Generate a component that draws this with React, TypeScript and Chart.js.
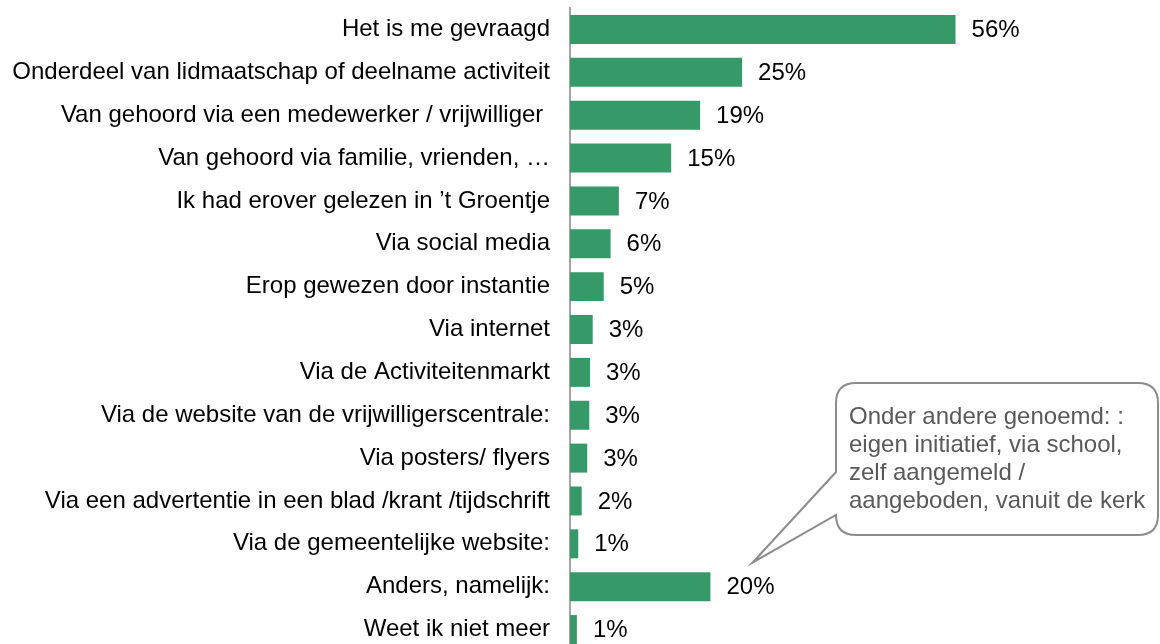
import React, { useEffect, useRef } from "react";
import { Chart, registerables } from "chart.js";

Chart.register(...registerables);

const categories = [
  "Het is me gevraagd",
  "Onderdeel van lidmaatschap of deelname activiteit",
  "Van gehoord via een medewerker / vrijwilliger ",
  "Van gehoord via familie, vrienden, \u2026",
  "Ik had erover gelezen in \u2019t Groentje",
  "Via social media",
  "Erop gewezen door instantie",
  "Via internet",
  "Via de Activiteitenmarkt",
  "Via de website van de vrijwilligerscentrale:",
  "Via posters/ flyers",
  "Via een advertentie in een blad /krant /tijdschrift",
  "Via de gemeentelijke website:",
  "Anders, namelijk:",
  "Weet ik niet meer",
];

const values = [56, 25, 18.9, 14.7, 7.1, 5.9, 4.9, 3.3, 2.9, 2.8, 2.5, 1.7, 1.2, 20.4, 1.0];

const valueLabels = ["56%", "25%", "19%", "15%", "7%", "6%", "5%", "3%", "3%", "3%", "3%", "2%", "1%", "20%", "1%"];

const calloutLines = [
  "Onder andere genoemd: :",
  "eigen initiatief, via school,",
  "zelf aangemeld /",
  "aangeboden, vanuit de kerk",
];
const calloutIndex = 13;

const FONT = "'Liberation Sans', Arial, sans-serif";

const valueLabelPlugin = {
  id: "valueLabels",
  afterDatasetsDraw(chart: any) {
    const ctx = chart.ctx;
    const meta = chart.getDatasetMeta(0);
    ctx.save();
    ctx.font = `24px ${FONT}`;
    ctx.fillStyle = "#000000";
    ctx.textAlign = "left";
    ctx.textBaseline = "middle";
    meta.data.forEach((bar: any, i: number) => {
      ctx.fillText(valueLabels[i], bar.x + 16, bar.y + 1);
    });
    ctx.restore();
  },
};

const calloutPlugin = {
  id: "callout",
  afterDraw(chart: any) {
    const ctx = chart.ctx;
    const xs = chart.scales.x;
    const ys = chart.scales.y;
    const tipX = xs.getPixelForValue(values[calloutIndex]) + 42;
    const tipY = ys.getPixelForValue(calloutIndex) - 24;
    const left = 836;
    const top = 383;
    const right = 1158;
    const bottom = 535;
    const r = 20;
    const t1 = 472;
    const t2 = 515;
    ctx.save();
    ctx.beginPath();
    ctx.moveTo(left + r, top);
    ctx.lineTo(right - r, top);
    ctx.quadraticCurveTo(right, top, right, top + r);
    ctx.lineTo(right, bottom - r);
    ctx.quadraticCurveTo(right, bottom, right - r, bottom);
    ctx.lineTo(left + r, bottom);
    ctx.quadraticCurveTo(left, bottom, left, bottom - r);
    ctx.lineTo(left, t2);
    ctx.lineTo(tipX, tipY);
    ctx.lineTo(left, t1);
    ctx.lineTo(left, top + r);
    ctx.quadraticCurveTo(left, top, left + r, top);
    ctx.closePath();
    ctx.fillStyle = "#ffffff";
    ctx.fill();
    ctx.strokeStyle = "#8c8c8c";
    ctx.lineWidth = 2;
    ctx.stroke();
    ctx.font = `24px ${FONT}`;
    ctx.fillStyle = "#595959";
    ctx.textAlign = "left";
    ctx.textBaseline = "alphabetic";
    calloutLines.forEach((line, i) => {
      ctx.fillText(line, 849, 423.5 + i * 28.3);
    });
    ctx.restore();
  },
};

export default function App() {
  const canvasRef = useRef<HTMLCanvasElement | null>(null);

  useEffect(() => {
    if (!canvasRef.current) return;
    const chart = new Chart(canvasRef.current, {
      type: "bar",
      data: {
        labels: categories,
        datasets: [
          {
            data: values,
            backgroundColor: "#359a68",
            borderWidth: 0,
            categoryPercentage: 1,
            barPercentage: 0.676,
          },
        ],
      },
      options: {
        indexAxis: "y",
        animation: false,
        responsive: false,
        maintainAspectRatio: false,
        devicePixelRatio: 1,
        layout: { padding: { top: 8, bottom: 1, left: 0, right: 0 } },
        plugins: {
          legend: { display: false },
          tooltip: { enabled: false },
        },
        scales: {
          x: {
            display: false,
            min: 0,
            max: 85.7,
            grid: { display: false },
          },
          y: {
            grid: { display: false, drawTicks: false },
            border: { display: true, color: "#a6a6a6", width: 2 },
            ticks: {
              padding: 20,
              color: "#000000",
              font: { family: FONT, size: 24 },
              autoSkip: false,
            },
            afterFit(scale: any) {
              scale.width = 570;
              scale.paddingTop = 0;
              scale.paddingBottom = 0;
            },
          },
        },
      },
      plugins: [valueLabelPlugin, calloutPlugin],
    });
    return () => chart.destroy();
  }, []);

  return (
    <div
      style={{
        position: "absolute",
        left: 0,
        top: 0,
        width: 1160,
        height: 644,
        overflow: "hidden",
        background: "#ffffff",
      }}
    >
      <canvas ref={canvasRef} width={1160} height={652} style={{ display: "block", width: 1160, height: 652 }} />
    </div>
  );
}
